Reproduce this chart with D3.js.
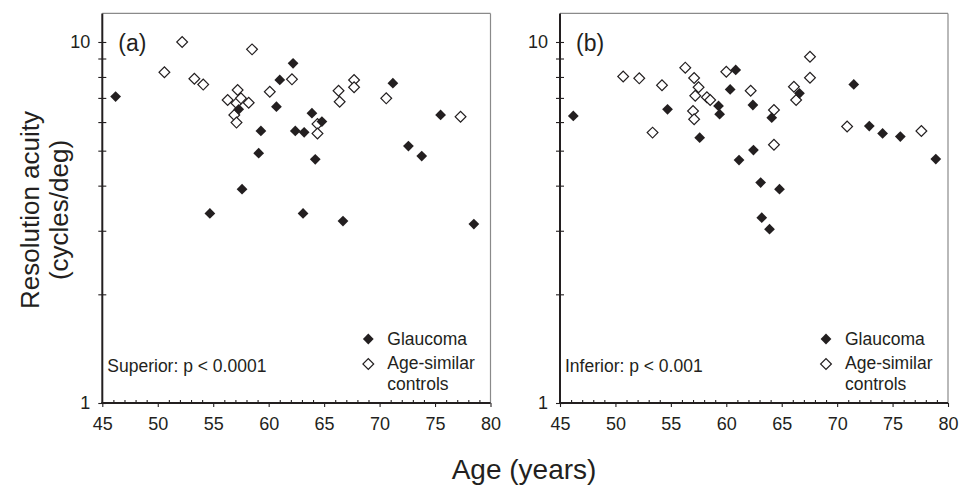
<!DOCTYPE html>
<html>
<head>
<meta charset="utf-8">
<script src="https://cdn.jsdelivr.net/npm/d3@7"></script>
<style>
  body { margin: 0; background: #fff; }
  text { font-family: "Liberation Sans", Arial, sans-serif; fill: #231f20; }
</style>
</head>
<body>
<div id="chart"></div>
<script>
// x ticks and y range
var ageTicks = [45, 50, 55, 60, 65, 70, 75, 80];
var acuityTicks = [1, 2, 3, 4, 5, 6, 7, 8, 9, 10];

// (a) superior field
var supGlaucomaAge    = [46.2, 54.7, 57.3, 57.6, 59.1, 59.3, 60.7, 61.0, 62.2, 62.4, 63.2, 63.1, 63.9, 64.2, 64.8, 66.7, 71.2, 72.6, 73.8, 75.5, 78.5];
var supGlaucomaAcuity = [7.06, 3.35, 6.51, 3.91, 4.92, 5.67, 6.62, 7.85, 8.73, 5.67, 5.62, 3.35, 6.35, 4.73, 6.02, 3.19, 7.69, 5.15, 4.83, 6.28, 3.13];
var supControlAge     = [50.6, 52.2, 53.3, 54.1, 56.3, 56.9, 57.1, 57.1, 57.2, 57.5, 58.2, 58.5, 60.1, 62.1, 64.4, 64.4, 66.3, 66.4, 67.7, 67.7, 70.6, 77.3];
var supControlAcuity  = [8.24, 10.0, 7.91, 7.62, 6.91, 6.28, 6.77, 5.98, 7.36, 6.98, 6.79, 9.54, 7.28, 7.88, 5.93, 5.58, 7.33, 6.83, 7.85, 7.49, 6.98, 6.21];

// (b) inferior field
var infGlaucomaAge    = [46.2, 54.7, 57.6, 59.3, 59.4, 60.35, 60.85, 61.15, 62.4, 62.45, 63.1, 63.2, 63.9, 64.1, 64.8, 66.6, 71.5, 72.9, 74.1, 75.7, 78.9];
var infGlaucomaAcuity = [6.24, 6.51, 5.43, 6.65, 6.31, 7.39, 8.37, 4.71, 6.69, 5.02, 4.08, 3.26, 3.03, 6.17, 3.91, 7.21, 7.63, 5.85, 5.58, 5.47, 4.74];
var infControlAge     = [50.7, 52.15, 53.35, 54.2, 56.3, 57.0, 57.1, 57.1, 57.2, 57.5, 58.25, 58.55, 60.0, 62.2, 64.3, 64.3, 66.1, 66.3, 67.55, 67.55, 70.9, 77.6];
var infControlAcuity  = [8.02, 7.93, 5.61, 7.59, 8.49, 6.44, 7.95, 6.11, 7.10, 7.49, 7.03, 6.91, 8.27, 7.33, 6.48, 5.19, 7.52, 6.91, 9.10, 7.96, 5.83, 5.67];

var W = 962, H = 489;
var top0 = 13.4, bottom0 = 403;

var svg = d3.select("#chart").append("svg").attr("width", W).attr("height", H);

// diamond = square turned 45deg
var diamond = d3.symbol().type(d3.symbolSquare).size(58);

function drawPanel(left, right, tag, note, gAge, gVal, cAge, cVal) {
    var x = d3.scaleLinear().domain([45, 80]).range([left, right]);
    var y = d3.scaleLog().domain([1, 12]).range([bottom0, top0]);

    // frame: top and right grey, left and bottom black
    svg.append("line").attr("x1", left).attr("x2", right).attr("y1", top0).attr("y2", top0)
        .attr("stroke", "#8a8a8a").attr("stroke-width", 1.2);
    svg.append("line").attr("x1", right).attr("x2", right).attr("y1", top0).attr("y2", bottom0)
        .attr("stroke", "#8a8a8a").attr("stroke-width", 1.2);

    // minor x ticks (inside)
    var minor = d3.range(46, 80).filter(function(d) { return d % 5 != 0; });
    var gMinor = svg.append("g").attr("transform", "translate(0," + bottom0 + ")")
        .call(d3.axisBottom(x).tickValues(minor).tickSize(-3).tickFormat(""));
    gMinor.select(".domain").remove();

    // major x ticks
    var gx = svg.append("g").attr("transform", "translate(0," + bottom0 + ")")
        .call(d3.axisBottom(x).tickValues(ageTicks).tickSize(4).tickPadding(10).tickFormat(d3.format("d")));
    gx.select(".domain").remove();
    gx.selectAll("text").style("font-size", "18px").attr("fill", "#231f20");

    // y axis log ticks crossing the axis
    var gy = svg.append("g").attr("transform", "translate(" + left + ",0)")
        .call(d3.axisLeft(y).tickValues(acuityTicks).tickSize(4).tickPadding(8)
            .tickFormat(function(d) { return (d == 1 || d == 10) ? d : ""; }));
    gy.select(".domain").remove();
    gy.selectAll(".tick line").attr("x1", 4).attr("x2", -4);
    gy.selectAll("text").style("font-size", "18px").attr("fill", "#231f20");
    svg.selectAll(".tick line").attr("stroke", "#231f20").attr("stroke-width", 1.1);

    // black axis lines
    svg.append("line").attr("x1", left).attr("x2", left).attr("y1", top0).attr("y2", bottom0 + 1)
        .attr("stroke", "#231f20").attr("stroke-width", 2);
    svg.append("line").attr("x1", left - 1).attr("x2", right).attr("y1", bottom0).attr("y2", bottom0)
        .attr("stroke", "#231f20").attr("stroke-width", 2);

    // controls first, glaucoma on top
    var controls = cAge.map(function(a, i) { return [a, cVal[i]]; });
    var glaucoma = gAge.map(function(a, i) { return [a, gVal[i]]; });

    svg.append("g").selectAll("path").data(controls).enter().append("path")
        .attr("d", diamond)
        .attr("transform", function(d) { return "translate(" + x(d[0]) + "," + y(d[1]) + ") rotate(45)"; })
        .attr("fill", "#fff").attr("stroke", "#231f20").attr("stroke-width", 1.2);

    svg.append("g").selectAll("path").data(glaucoma).enter().append("path")
        .attr("d", diamond)
        .attr("transform", function(d) { return "translate(" + x(d[0]) + "," + y(d[1]) + ") rotate(45)"; })
        .attr("fill", "#231f20");

    // panel tag and p value
    svg.append("text").attr("x", left + 16).attr("y", 51).style("font-size", "23px").text(tag);
    svg.append("text").attr("x", left + 5).attr("y", 372).style("font-size", "17.5px").text(note);

    // legend
    var lx = left + 266, tx = left + 285;
    svg.append("path").attr("d", diamond).attr("transform", "translate(" + lx + ",339) rotate(45)")
        .attr("fill", "#231f20");
    svg.append("text").attr("x", tx).attr("y", 345).style("font-size", "17.5px").text("Glaucoma");
    svg.append("path").attr("d", diamond).attr("transform", "translate(" + lx + ",364) rotate(45)")
        .attr("fill", "#fff").attr("stroke", "#231f20").attr("stroke-width", 1.2);
    svg.append("text").attr("x", tx).attr("y", 369).style("font-size", "17.5px").text("Age-similar");
    svg.append("text").attr("x", tx).attr("y", 390).style("font-size", "17.5px").text("controls");
}

drawPanel(102.3, 490.5, "(a)", "Superior: p < 0.0001", supGlaucomaAge, supGlaucomaAcuity, supControlAge, supControlAcuity);
drawPanel(560, 948, "(b)", "Inferior: p < 0.001", infGlaucomaAge, infGlaucomaAcuity, infControlAge, infControlAcuity);

// axis titles
svg.append("text").attr("transform", "translate(39,210) rotate(-90)").attr("text-anchor", "middle")
    .style("font-size", "26px").text("Resolution acuity");
svg.append("text").attr("transform", "translate(68,210) rotate(-90)").attr("text-anchor", "middle")
    .style("font-size", "26px").text("(cycles/deg)");
svg.append("text").attr("x", 524).attr("y", 479).attr("text-anchor", "middle")
    .style("font-size", "28px").text("Age (years)");
</script>
</body>
</html>
